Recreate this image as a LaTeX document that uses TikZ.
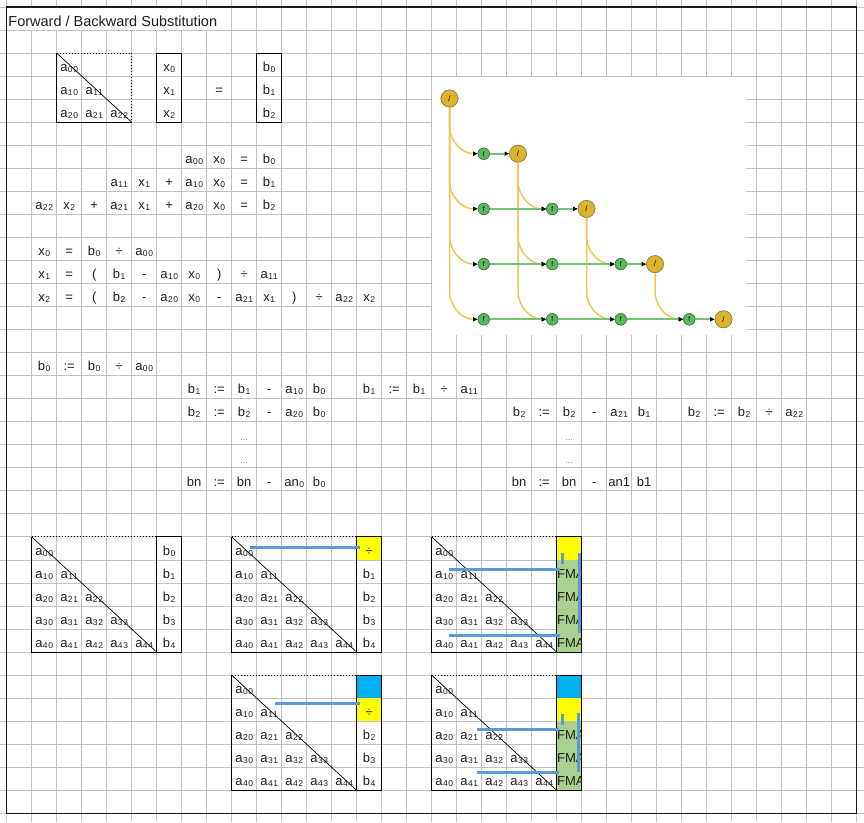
\documentclass[tikz,border=0pt]{standalone}
\usepackage{fontspec}
\setmainfont{Liberation Sans}
\newfontfamily\subfont[LetterSpace=8]{Liberation Sans}
\usetikzlibrary{arrows.meta,calc}
\definecolor{gridc}{HTML}{C2C2C2}
\definecolor{txt}{HTML}{1E1E1E}
\definecolor{bline}{HTML}{5B9BD5}
\definecolor{fmagreen}{HTML}{A9D08E}
\definecolor{cyanb}{HTML}{00B0F0}
\definecolor{yellowc}{HTML}{FFFF00}
\definecolor{gnodefill}{HTML}{5CB85C}
\definecolor{gnodeborder}{HTML}{437F43}
\definecolor{ynodefill}{HTML}{DBB42C}
\definecolor{ynodeborder}{HTML}{8F8055}
\definecolor{yedgec}{HTML}{EBC954}
\definecolor{gedgec}{HTML}{74C274}
\newcommand{\subs}[1]{\kern0.5pt\raisebox{-1pt}{\subfont\fontsize{8.5}{8.5}\selectfont #1}}
\newcommand{\ctext}[3]{\node[celltext] (t#1-#2) at ({19.2+25*(#1)},{25.3+23.04*(#2)}) {#3};}
\newcommand{\cellfill}[4]{\fill[#4] ({6.7+25*(#1)},{7+23.04*(#2)}) rectangle ({31.7+25*(#1)},{7+23.04*(#3)});}
\newcommand{\dts}{{\color{gray}\fontsize{9}{9}\selectfont ...}}
\newcommand{\lowmat}[2]{%
 \pgfmathsetmacro\mL{6.7+25*#1}%
 \pgfmathsetmacro\mT{7+23.04*#2}%
 \pgfmathsetmacro\mR{\mL+125}%
 \pgfmathsetmacro\mB{\mT+115.2}%
 \pgfmathsetmacro\mBR{\mR+25}%
 \draw[dotline] (\mL,\mT) -- (\mR,\mT);%
 \draw[mborder] (\mL,\mT) -- (\mL,\mB) -- (\mR,\mB);%
 \draw[mborder] (\mR,\mT) rectangle (\mBR,\mB);%
 \draw[diag] (\mL,\mT) -- (\mR,\mB);%
 \foreach \ii in {0,...,4}{\foreach \jj in {0,...,\ii}{%
   \pgfmathtruncatemacro\cc{#1+\jj}\pgfmathtruncatemacro\rr{#2+\ii}%
   \ctext{\cc}{\rr}{a\subs{\ii\jj}}}}%
}
\newcommand{\fmatext}[1]{%
 \pgfmathsetmacro\fT{7+23.04*#1}%
 \begin{scope}
 \clip (556.7,\fT) rectangle (581.7,{\fT+23.04});
 \node[celltext, anchor=base west] (fma-#1) at (557.2,{\fT+18.3}) {FMA};
 \end{scope}}
\tikzset{
 gridline/.style={draw=gridc, line width=0.9pt},
 celltext/.style={anchor=base, inner sep=0pt, outer sep=0pt, font=\fontsize{13}{13}\selectfont, text=txt},
 mborder/.style={draw=black, line width=1.1pt},
 dotline/.style={draw=black, line width=0.9pt, dash pattern=on 1pt off 2pt},
 diag/.style={draw=black, line width=0.7pt},
 bluel/.style={draw=bline, line width=3pt},
 ynode/.style={circle, fill=ynodefill, draw=ynodeborder, line width=0.6pt, minimum size=17pt, inner sep=0pt, font=\fontsize{8}{8}\selectfont},
 gnode/.style={circle, fill=gnodefill, draw=gnodeborder, line width=0.6pt, minimum size=11.5pt, inner sep=0pt, font=\fontsize{6.5}{6.5}\selectfont},
 yedge/.style={draw=yedgec, line width=1.5pt, -{Triangle[length=4.5pt,width=4pt,color=black]}},
 gedge/.style={draw=gedgec, line width=2pt, -{Triangle[length=4.5pt,width=4pt,color=black]}},
}
\begin{document}
\begin{tikzpicture}[x=1pt,y=-1pt]
\useasboundingbox (0,0) rectangle (864,822);
\fill[white] (0,0) rectangle (864,822);
% grid
\foreach \j in {0,...,34} \draw[gridline] ({6.7+25*\j},0) -- ({6.7+25*\j},822);
\foreach \k in {0,...,35} \draw[gridline] (0,{7+23.04*\k}) -- (864,{7+23.04*\k});
% title merged cell
\fill[white] (7.3,7.6) rectangle (231.2,29.5);
\node[anchor=base west, inner sep=0pt, font=\fontsize{14.5}{14.5}\selectfont, text=txt] (title) at (8.2,26.5) {Forward / Backward Substitution};
% graph picture background
\fill[white] (432.2,77) rectangle (746,335);
% frame
\draw[line width=1.4pt, black!90] (6.7,7) rectangle (856.7,813.4);

% top matrix equation
\draw[dotline] (56.7,53.1) -- (131.7,53.1) -- (131.7,122.2);
\draw[mborder] (56.7,53.1) -- (56.7,122.2) -- (131.7,122.2);
\draw[diag] (56.7,53.1) -- (131.7,122.2);
\draw[mborder] (156.7,53.1) rectangle (181.7,122.2);
\draw[mborder] (256.7,53.1) rectangle (281.7,122.2);
\ctext{2}{2}{a\subs{00}} \ctext{6}{2}{x\subs{0}} \ctext{10}{2}{b\subs{0}}
\ctext{2}{3}{a\subs{10}} \ctext{3}{3}{a\subs{11}} \ctext{6}{3}{x\subs{1}} \ctext{8}{3}{=} \ctext{10}{3}{b\subs{1}}
\ctext{2}{4}{a\subs{20}} \ctext{3}{4}{a\subs{21}} \ctext{4}{4}{a\subs{22}} \ctext{6}{4}{x\subs{2}} \ctext{10}{4}{b\subs{2}}

% equations
\ctext{7}{6}{a\subs{00}} \ctext{8}{6}{x\subs{0}} \ctext{9}{6}{=} \ctext{10}{6}{b\subs{0}}
\ctext{4}{7}{a\subs{11}} \ctext{5}{7}{x\subs{1}} \ctext{6}{7}{+} \ctext{7}{7}{a\subs{10}} \ctext{8}{7}{x\subs{0}} \ctext{9}{7}{=} \ctext{10}{7}{b\subs{1}}
\ctext{1}{8}{a\subs{22}} \ctext{2}{8}{x\subs{2}} \ctext{3}{8}{+} \ctext{4}{8}{a\subs{21}} \ctext{5}{8}{x\subs{1}} \ctext{6}{8}{+} \ctext{7}{8}{a\subs{20}} \ctext{8}{8}{x\subs{0}} \ctext{9}{8}{=} \ctext{10}{8}{b\subs{2}}

\ctext{1}{10}{x\subs{0}} \ctext{2}{10}{=} \ctext{3}{10}{b\subs{0}} \ctext{4}{10}{÷} \ctext{5}{10}{a\subs{00}}
\ctext{1}{11}{x\subs{1}} \ctext{2}{11}{=} \ctext{3}{11}{(} \ctext{4}{11}{b\subs{1}} \ctext{5}{11}{-} \ctext{6}{11}{a\subs{10}} \ctext{7}{11}{x\subs{0}} \ctext{8}{11}{)} \ctext{9}{11}{÷} \ctext{10}{11}{a\subs{11}}
\ctext{1}{12}{x\subs{2}} \ctext{2}{12}{=} \ctext{3}{12}{(} \ctext{4}{12}{b\subs{2}} \ctext{5}{12}{-} \ctext{6}{12}{a\subs{20}} \ctext{7}{12}{x\subs{0}} \ctext{8}{12}{-} \ctext{9}{12}{a\subs{21}} \ctext{10}{12}{x\subs{1}} \ctext{11}{12}{)} \ctext{12}{12}{÷} \ctext{13}{12}{a\subs{22}} \ctext{14}{12}{x\subs{2}}

% b updates
\ctext{1}{15}{b\subs{0}} \ctext{2}{15}{:=} \ctext{3}{15}{b\subs{0}} \ctext{4}{15}{÷} \ctext{5}{15}{a\subs{00}}
\ctext{7}{16}{b\subs{1}} \ctext{8}{16}{:=} \ctext{9}{16}{b\subs{1}} \ctext{10}{16}{-} \ctext{11}{16}{a\subs{10}} \ctext{12}{16}{b\subs{0}}
\ctext{14}{16}{b\subs{1}} \ctext{15}{16}{:=} \ctext{16}{16}{b\subs{1}} \ctext{17}{16}{÷} \ctext{18}{16}{a\subs{11}}
\ctext{7}{17}{b\subs{2}} \ctext{8}{17}{:=} \ctext{9}{17}{b\subs{2}} \ctext{10}{17}{-} \ctext{11}{17}{a\subs{20}} \ctext{12}{17}{b\subs{0}}
\ctext{20}{17}{b\subs{2}} \ctext{21}{17}{:=} \ctext{22}{17}{b\subs{2}} \ctext{23}{17}{-} \ctext{24}{17}{a\subs{21}} \ctext{25}{17}{b\subs{1}}
\ctext{27}{17}{b\subs{2}} \ctext{28}{17}{:=} \ctext{29}{17}{b\subs{2}} \ctext{30}{17}{÷} \ctext{31}{17}{a\subs{22}}
\ctext{9}{18}{\dts} \ctext{22}{18}{\dts}
\ctext{9}{19}{\dts} \ctext{22}{19}{\dts}
\ctext{7}{20}{bn} \ctext{8}{20}{:=} \ctext{9}{20}{bn} \ctext{10}{20}{-} \ctext{11}{20}{an\subs{0}} \ctext{12}{20}{b\subs{0}}
\ctext{20}{20}{bn} \ctext{21}{20}{:=} \ctext{22}{20}{bn} \ctext{23}{20}{-} \ctext{24}{20}{an1} \ctext{25}{20}{b1}

% fills
\cellfill{14}{23}{24}{yellowc}
\cellfill{22}{23}{24}{yellowc}
\cellfill{22}{24}{28}{fmagreen}
\cellfill{14}{29}{30}{cyanb}
\cellfill{14}{30}{31}{yellowc}
\cellfill{22}{29}{30}{cyanb}
\cellfill{22}{30}{31}{yellowc}
\cellfill{22}{31}{34}{fmagreen}

% lower matrices
\lowmat{1}{23}
\lowmat{9}{23}
\lowmat{17}{23}
\lowmat{9}{29}
\lowmat{17}{29}
\ctext{6}{23}{b\subs{0}} \ctext{6}{24}{b\subs{1}} \ctext{6}{25}{b\subs{2}} \ctext{6}{26}{b\subs{3}} \ctext{6}{27}{b\subs{4}}
\ctext{14}{23}{÷} \ctext{14}{24}{b\subs{1}} \ctext{14}{25}{b\subs{2}} \ctext{14}{26}{b\subs{3}} \ctext{14}{27}{b\subs{4}}
\ctext{14}{30}{÷} \ctext{14}{31}{b\subs{2}} \ctext{14}{32}{b\subs{3}} \ctext{14}{33}{b\subs{4}}
\fmatext{24} \fmatext{25} \fmatext{26} \fmatext{27}
\fmatext{31} \fmatext{32} \fmatext{33}

% blue lines
\draw[bluel] (250,547.3) -- (360,547.3);
\draw[bluel] (449.3,569) -- (560,569);
\draw[bluel] (449.3,635.7) -- (560,635.7);
\draw[bluel] (562.7,553.3) -- (562.7,564.3);
\draw[bluel] (579,553.3) -- (579,633.3);
\draw[bluel] (275,703.3) -- (360,703.3);
\draw[bluel] (477.3,729) -- (559.3,729);
\draw[bluel] (477.3,772.3) -- (559.3,772.3);
\draw[bluel] (562.7,714.3) -- (562.7,725);
\draw[bluel] (578.3,713.3) -- (578.3,772.3);

% dependency graph
\foreach \i in {0,...,4} \node[ynode] (D\i) at ({449.5+68.5*\i},{98.5+55.2*\i}) {/};
\foreach \i in {1,...,4}{
  \pgfmathtruncatemacro\jm{\i-1}
  \foreach \j in {0,...,\jm} \node[gnode] (F\i\j) at ({483.75+68.5*\j},{98.5+55.2*\i}) {f};
}
\begin{scope}[on background layer/.style={}]
\foreach \j in {0,...,3}{
  \pgfmathtruncatemacro\jp{\j+1}
  \foreach \i in {\jp,...,4}{
    \draw[yedge] (D\j.south) -- ($(D\j |- F\i\j.west)+(0,-28)$) to[out=-90,in=180] (F\i\j.west);
  }
}
\foreach \i in {1,...,4}{
  \pgfmathtruncatemacro\jl{\i-1}
  \ifnum\i>1
    \pgfmathtruncatemacro\jk{\i-2}
    \foreach \j in {0,...,\jk}{
      \pgfmathtruncatemacro\jn{\j+1}
      \draw[gedge] (F\i\j.east) -- (F\i\jn.west);
    }
  \fi
  \draw[gedge] (F\i\jl.east) -- (D\i.west);
}
\end{scope}
% redraw nodes on top of edges
\foreach \i in {0,...,4} \node[ynode] (D\i) at ({449.5+68.5*\i},{98.5+55.2*\i}) {/};
\foreach \i in {1,...,4}{
  \pgfmathtruncatemacro\jm{\i-1}
  \foreach \j in {0,...,\jm} \node[gnode] (F\i\j) at ({483.75+68.5*\j},{98.5+55.2*\i}) {f};
}
\end{tikzpicture}
\end{document}
